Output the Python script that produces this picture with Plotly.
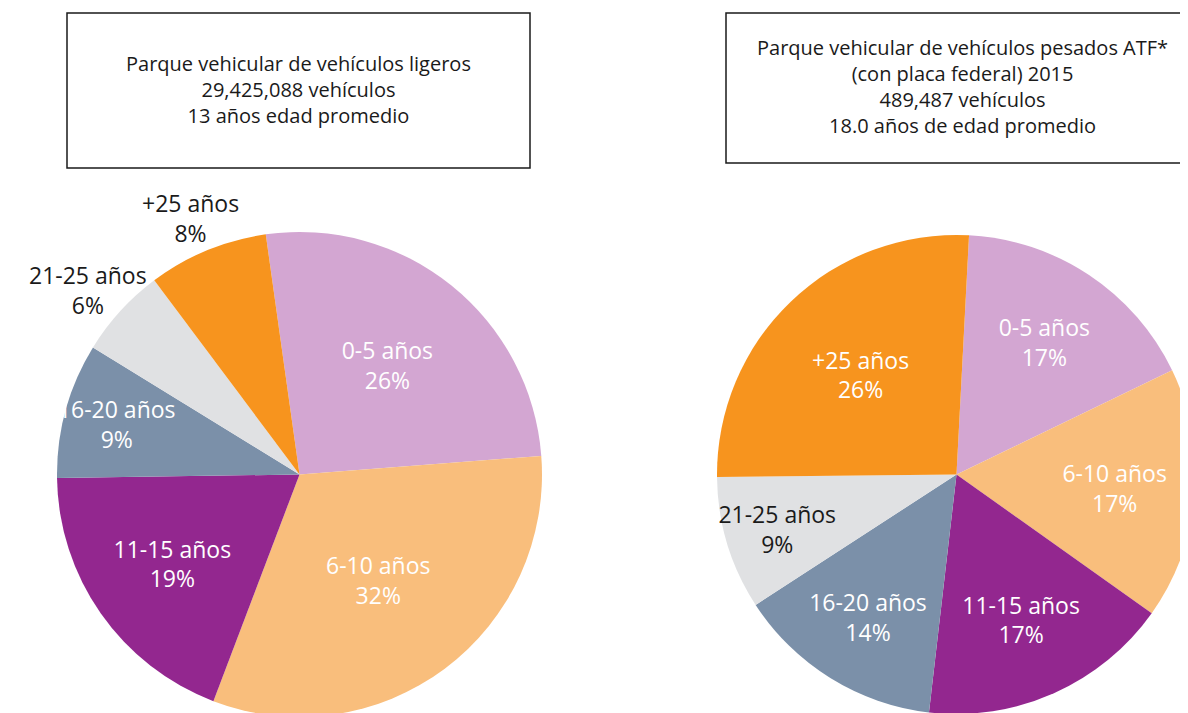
import math
import plotly.graph_objects as go

# parque vehicular por edad (% del total)
ligeros_labels = ['0-5 años', '6-10 años', '11-15 años', '16-20 años', '21-25 años', '+25 años']
ligeros_values = [26, 32, 19, 9, 6, 8]

pesados_labels = ['0-5 años', '6-10 años', '11-15 años', '16-20 años', '21-25 años', '+25 años']
pesados_values = [17, 17, 17, 14, 9, 26]

colors = ['#D3A6D2', '#F9BE7C', '#93278F', '#7B90A9', '#E0E1E3', '#F7941E']
text_colors = ['white', 'white', 'white', 'white', '#1a1a1a', 'white']

ligeros_title = 'Parque vehicular de vehículos ligeros<br>29,425,088 vehículos<br>13 años edad promedio'
pesados_title = ('Parque vehicular de vehículos pesados ATF*<br>(con placa federal) 2015'
                 '<br>489,487 vehículos<br>18.0 años de edad promedio')

FONT = 'Open Sans, Noto Sans, sans-serif'
W, H = 1188, 713
OFF = 8  # page body margin


def px(x):
    return min(max((x - OFF) / W, 0), 1)


def py(y):
    return min(max(1 - (y - OFF) / H, 0), 1)


# left pie geometry (page pixels)
L_X0, L_X1, L_Y0, L_Y1 = 57, 542, 232, 717
L_ROT = -8

fig = go.Figure()

fig.add_trace(go.Pie(
    labels=ligeros_labels,
    values=ligeros_values,
    sort=False,
    direction='clockwise',
    rotation=L_ROT,
    marker=dict(colors=colors, line=dict(width=0)),
    texttemplate='%{label}<br>%{value}%',
    textposition=['inside', 'inside', 'inside', 'inside', 'none', 'none'],
    insidetextorientation='horizontal',
    insidetextfont=dict(color=text_colors, size=23, family=FONT),
    domain=dict(x=[px(L_X0), px(L_X1)], y=[py(L_Y1), py(L_Y0)]),
    showlegend=False,
    hoverinfo='label+percent',
))

fig.add_trace(go.Pie(
    labels=pesados_labels,
    values=pesados_values,
    sort=False,
    direction='clockwise',
    rotation=3,
    marker=dict(colors=colors, line=dict(width=0)),
    texttemplate='%{label}<br>%{value}%',
    textposition='inside',
    insidetextorientation='horizontal',
    insidetextfont=dict(color=text_colors, size=23, family=FONT),
    domain=dict(x=[px(717), px(1203)], y=[py(714), py(235)]),
    showlegend=False,
    hoverinfo='label+percent',
))

# the two small slices of the left pie carry their label just outside the rim,
# along the middle angle of the slice
cx = (L_X0 + L_X1) / 2
cy = (L_Y0 + L_Y1) / 2
r = (L_X1 - L_X0) / 2
total = sum(ligeros_values)
start = L_ROT
for lab, val in zip(ligeros_labels, ligeros_values):
    mid = start + 360 * val / total / 2
    start += 360 * val / total
    if lab not in ('21-25 años', '+25 años'):
        continue
    a = math.radians(mid)
    fig.add_annotation(text=f'{lab}<br>{val}%', xref='paper', yref='paper',
                       x=px(cx + 1.18 * r * math.sin(a)),
                       y=py(cy - 1.18 * r * math.cos(a)),
                       xanchor='center', yanchor='middle', showarrow=False,
                       yshift=-8,
                       font=dict(size=23, color='#1a1a1a', family=FONT))

# recuadros de titulo
fig.add_shape(type='rect', xref='paper', yref='paper',
              x0=px(67), x1=px(530), y0=py(168), y1=py(13),
              line=dict(color='#1a1a1a', width=1.5))
fig.add_shape(type='rect', xref='paper', yref='paper',
              x0=px(726), x1=1.05, y0=py(163), y1=py(13),
              line=dict(color='#1a1a1a', width=1.5))

fig.add_annotation(text=ligeros_title, xref='paper', yref='paper',
                   x=px(298), y=py(89), xanchor='center', yanchor='middle',
                   showarrow=False,
                   font=dict(size=20, color='#1a1a1a', family=FONT))
fig.add_annotation(text=pesados_title, xref='paper', yref='paper',
                   x=px(962), y=py(87), xanchor='center', yanchor='middle',
                   showarrow=False,
                   font=dict(size=20, color='#1a1a1a', family=FONT))

fig.update_layout(
    width=W,
    height=H,
    margin=dict(l=0, r=0, t=0, b=0),
    paper_bgcolor='white',
    plot_bgcolor='white',
    font=dict(family=FONT, color='#1a1a1a'),
    uniformtext=dict(minsize=23, mode='show'),
)

fig.write_html('out.html', config={'displayModeBar': False})
